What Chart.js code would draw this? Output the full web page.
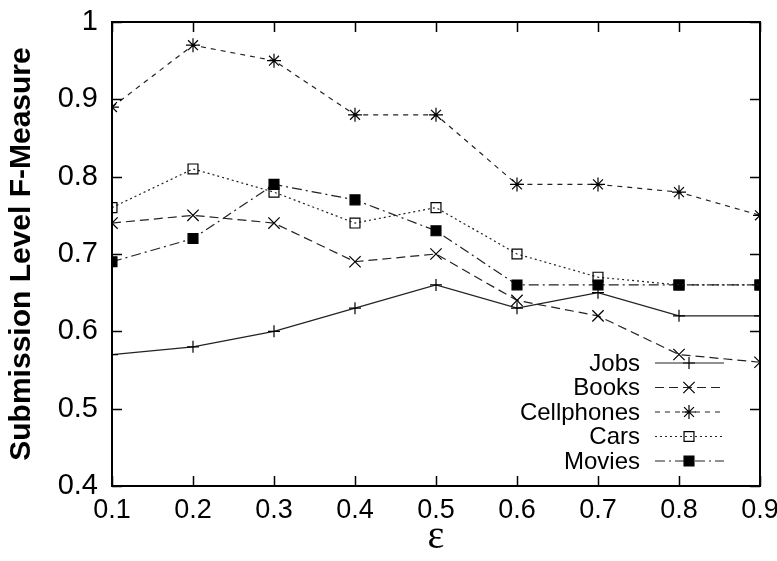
<!DOCTYPE html>
<html>
<head>
<meta charset="utf-8">
<script src="https://cdn.jsdelivr.net/npm/chart.js@4"></script>
<style>
  html, body { margin: 0; padding: 0; background: #fff; }
  #wrap { width: 777px; height: 561px; }
</style>
</head>
<body>
<div id="wrap"><canvas id="fmChart"></canvas></div>
<script>
const epsilon = [0.1, 0.2, 0.3, 0.4, 0.5, 0.6, 0.7, 0.8, 0.9];
const jobs = [0.57, 0.58, 0.60, 0.63, 0.66, 0.63, 0.65, 0.62, 0.62];
const books = [0.74, 0.75, 0.74, 0.69, 0.70, 0.64, 0.62, 0.57, 0.56];
const cellphones = [0.89, 0.97, 0.95, 0.88, 0.88, 0.79, 0.79, 0.78, 0.75];
const cars = [0.76, 0.81, 0.78, 0.74, 0.76, 0.70, 0.67, 0.66, 0.66];
const movies = [0.69, 0.72, 0.79, 0.77, 0.73, 0.66, 0.66, 0.66, 0.66];

const FONT = "'Liberation Sans', Arial, Helvetica, sans-serif";

function pts(vals) {
  return vals.map((v, i) => ({ x: epsilon[i], y: v }));
}

function series(label, vals, dash, style, radius, fill) {
  return {
    label: label,
    data: pts(vals),
    borderColor: '#222',
    borderWidth: 1.2,
    borderDash: dash,
    pointStyle: style,
    pointRadius: radius,
    pointBorderColor: '#000',
    pointBorderWidth: 1.2,
    pointBackgroundColor: fill,
    tension: 0,
    fill: false
  };
}

// box round the plot, ticks pointing inward on all four sides
const frame = {
  id: 'frame',
  afterDatasetsDraw(chart) {
    const { ctx, chartArea: a, scales } = chart;
    ctx.save();
    ctx.strokeStyle = '#000';
    ctx.lineWidth = 1.5;
    ctx.beginPath();
    scales.x.ticks.forEach(t => {
      const px = Math.round(scales.x.getPixelForValue(t.value)) + 0.5;
      ctx.moveTo(px, a.bottom); ctx.lineTo(px, a.bottom - 10);
      ctx.moveTo(px, a.top); ctx.lineTo(px, a.top + 10);
    });
    scales.y.ticks.forEach(t => {
      const py = Math.round(scales.y.getPixelForValue(t.value)) + 0.5;
      ctx.moveTo(a.left, py); ctx.lineTo(a.left + 10, py);
      ctx.moveTo(a.right, py); ctx.lineTo(a.right - 10, py);
    });
    ctx.stroke();
    ctx.lineWidth = 2;
    ctx.strokeRect(a.left, a.top, a.right - a.left, a.bottom - a.top);
    ctx.restore();
  }
};

// gnuplot-like key: text right aligned, then line sample with marker
const key = {
  id: 'key',
  afterDraw(chart) {
    const ctx = chart.ctx;
    ctx.save();
    ctx.font = '24px ' + FONT;
    ctx.textAlign = 'right';
    ctx.textBaseline = 'middle';
    chart.data.datasets.forEach((ds, i) => {
      const y = 363 + i * 24.5;
      ctx.fillStyle = '#000';
      ctx.fillText(ds.label, 640, y + 1);
      ctx.strokeStyle = ds.borderColor;
      ctx.lineWidth = ds.borderWidth;
      ctx.setLineDash(ds.borderDash);
      ctx.beginPath();
      ctx.moveTo(655, y); ctx.lineTo(724, y);
      ctx.stroke();
      ctx.setLineDash([]);
      ctx.strokeStyle = ds.pointBorderColor;
      ctx.fillStyle = ds.pointBackgroundColor;
      ctx.lineWidth = ds.pointBorderWidth;
      Chart.helpers.drawPoint(ctx, { pointStyle: ds.pointStyle, radius: ds.pointRadius, borderWidth: ds.pointBorderWidth }, 689, y);
    });
    ctx.restore();
  }
};

new Chart(document.getElementById('fmChart'), {
  type: 'line',
  data: {
    datasets: [
      series('Jobs', jobs, [], 'cross', 6, '#000'),
      series('Books', books, [9, 5], 'crossRot', 8, '#000'),
      series('Cellphones', cellphones, [5, 5], 'star', 7, '#000'),
      series('Cars', cars, [2, 3], 'rect', 7, 'rgba(0,0,0,0)'),
      series('Movies', movies, [10, 4, 2, 4], 'rect', 7, '#000')
    ]
  },
  options: {
    responsive: true,
    maintainAspectRatio: false,
    animation: false,
    layout: { padding: { top: 22, right: 17, left: 0, bottom: 0 } },
    plugins: {
      legend: { display: false },
      tooltip: { enabled: false }
    },
    scales: {
      x: {
        type: 'linear',
        min: 0.1,
        max: 0.9,
        afterFit: s => { s.height = 75; s.paddingLeft = 0; s.paddingRight = 0; },
        grid: { display: false, drawTicks: false },
        border: { display: false },
        ticks: {
          stepSize: 0.1,
          padding: 8,
          color: '#000',
          font: { family: FONT, size: 27 },
          maxRotation: 0,
          callback: v => v.toFixed(1)
        },
        title: {
          display: true,
          text: 'ε',
          color: '#000',
          font: { family: "'Liberation Serif', 'DejaVu Serif', serif", size: 40 },
          padding: { top: 0, bottom: 0 }
        }
      },
      y: {
        min: 0.4,
        max: 1,
        afterFit: s => { s.width = 112; s.paddingTop = 0; s.paddingBottom = 0; },
        grid: { display: false, drawTicks: false },
        border: { display: false },
        ticks: {
          stepSize: 0.1,
          padding: 14,
          color: '#000',
          font: { family: FONT, size: 29 },
          callback: v => Math.abs(v - 1) < 1e-9 ? '1' : v.toFixed(1)
        },
        title: {
          display: true,
          text: 'Submission Level F-Measure',
          color: '#000',
          font: { family: FONT, size: 30, weight: 'bold' },
          padding: { top: 4, bottom: 0 }
        }
      }
    }
  },
  plugins: [frame, key]
});
</script>
</body>
</html>
